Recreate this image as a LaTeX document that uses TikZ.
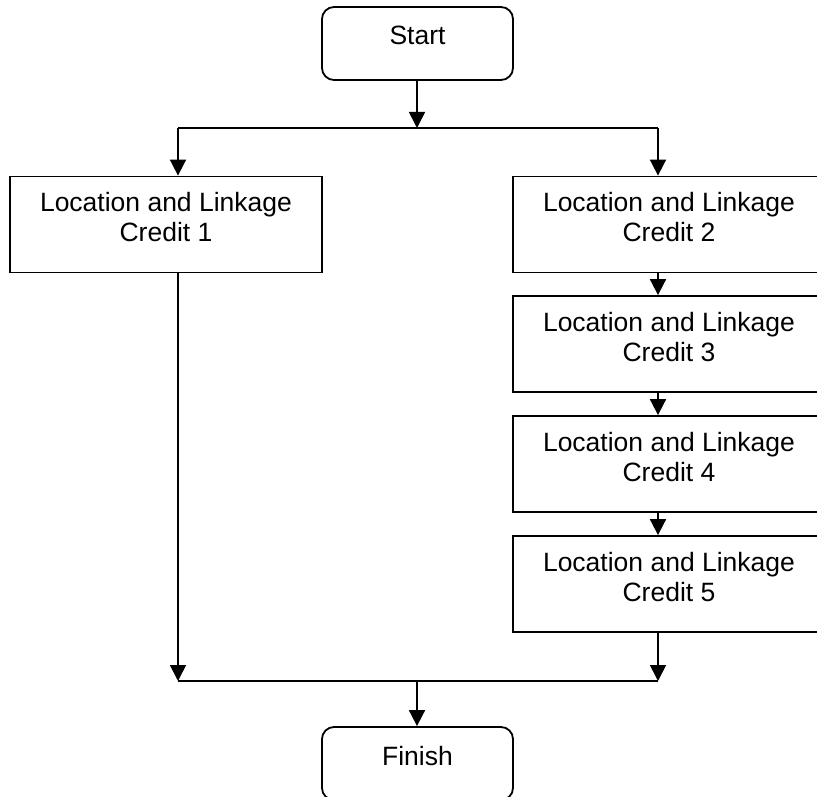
\documentclass[tikz,border=0pt]{standalone}
\usepackage{fontspec}
\setmainfont{Liberation Sans}
\usetikzlibrary{arrows.meta}
\begin{document}
\begin{tikzpicture}[x=1pt,y=1pt,
  every node/.style={font=\fontsize{26.5}{30}\selectfont},
  term/.style={draw, line width=1.8pt, rounded corners=12pt, minimum width=191pt, minimum height=73pt, inner sep=0pt, align=center},
  box/.style={draw, line width=1.8pt, minimum width=312pt, minimum height=96pt, inner sep=0pt, align=center},
  ln/.style={line width=1.8pt},
  arr/.style={line width=1.8pt, -{Triangle[width=16pt,length=16pt]}}]
\useasboundingbox (0,0) rectangle (817,-797);
\clip (0,0) rectangle (817,-797);
\newcommand{\dpfix}[1]{\rule[-#1]{0pt}{#1}}
\node[term] (start) at (417.5,-43.5) {Start\dpfix{16pt}};
\node[box] (c1) at (166,-224.5) {Location and Linkage\\Credit 1\dpfix{14.5pt}};
\node[box] (c2) at (669,-224.5) {Location and Linkage\\Credit 2\dpfix{14.5pt}};
\node[box] (c3) at (669,-344) {Location and Linkage\\Credit 3\dpfix{14.5pt}};
\node[box] (c4) at (669,-464) {Location and Linkage\\Credit 4\dpfix{14.5pt}};
\node[box] (c5) at (669,-584) {Location and Linkage\\Credit 5\dpfix{14.5pt}};
\node[term] (finish) at (417.5,-763.5) {Finish\dpfix{16pt}};
\coordinate (jt) at (417,-128);
\coordinate (jl) at (178,-128);
\coordinate (jr) at (658,-128);
\coordinate (bm) at (417,-681);
\coordinate (bl) at (178,-681);
\coordinate (br) at (658,-681);
\draw[arr] (jt |- start.south) -- (jt);
\draw[ln] (jl) -- (jr);
\draw[arr] (jl) -- (jl |- c1.north);
\draw[arr] (jr) -- (jr |- c2.north);
\draw[arr] (jr |- c2.south) -- (jr |- c3.north);
\draw[arr] (jr |- c3.south) -- (jr |- c4.north);
\draw[arr] (jr |- c4.south) -- (jr |- c5.north);
\draw[arr] (bl |- c1.south) -- (bl);
\draw[arr] (br |- c5.south) -- (br);
\draw[ln] (bl) -- (br);
\draw[arr] (bm) -- (bm |- finish.north);
\end{tikzpicture}
\end{document}
